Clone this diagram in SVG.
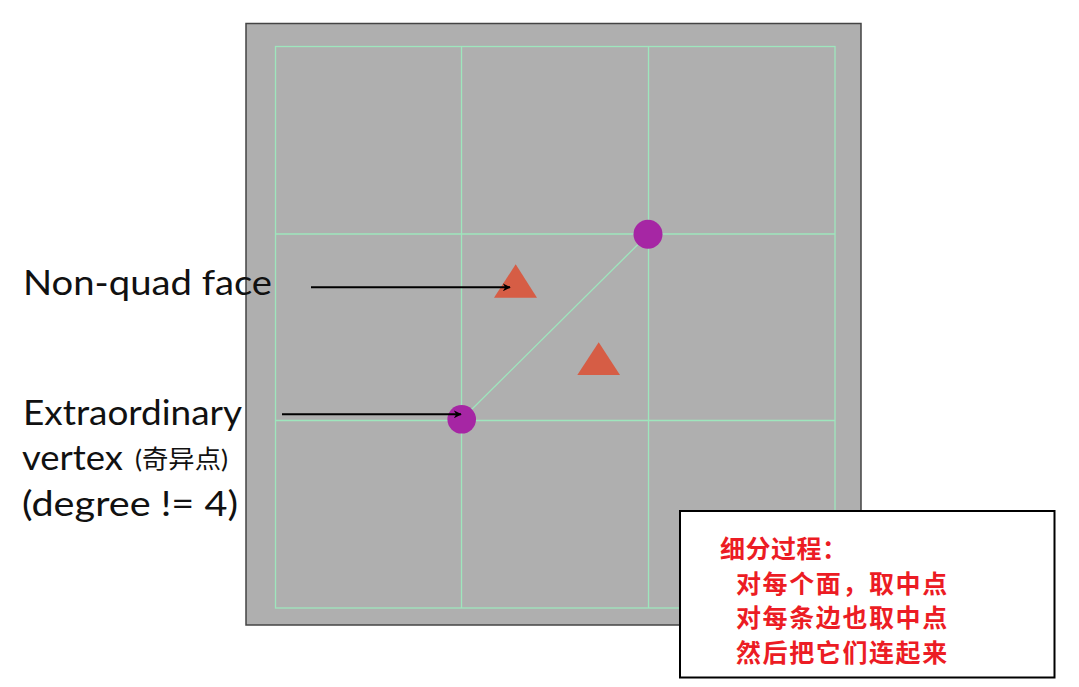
<svg xmlns="http://www.w3.org/2000/svg" width="1079" height="687" viewBox="0 0 1079 687">
<style>
.grid{stroke:#9ee6bd;stroke-width:1.3;fill:none}
.lbl{font-family:Lato,"Noto Sans","Noto Sans CJK SC",sans-serif;font-weight:400;fill:#111}
.note{font-family:"Noto Sans CJK SC",sans-serif;font-weight:bold;font-size:25px;fill:#ec1c24}
.arrow{stroke:#000;stroke-width:2;fill:none;marker-end:url(#ah)}
.vert{fill:#a626a4}
.face{fill:#d65d45}
</style>
<defs>
<marker id="ah" viewBox="0 0 10 10" refX="9" refY="5" markerWidth="8" markerHeight="8" markerUnits="userSpaceOnUse" orient="auto">
<path d="M0,0 L10,5 L0,10 L3,5 Z" fill="#000"/>
</marker>
</defs>
<rect width="1079" height="687" fill="#fff"/>
<g id="mesh">
<rect x="246" y="23.5" width="615" height="601.5" fill="#afafaf" stroke="#444" stroke-width="1.5"/>
<rect class="grid" x="275.5" y="46.5" width="559.5" height="561.5"/>
<line class="grid" x1="461.5" y1="46.5" x2="461.5" y2="608"/>
<line class="grid" x1="648.5" y1="46.5" x2="648.5" y2="608"/>
<line class="grid" x1="275.5" y1="234" x2="835" y2="234"/>
<line class="grid" x1="275.5" y1="420.5" x2="835" y2="420.5"/>
<line class="grid" x1="461.5" y1="419.5" x2="648" y2="234.5"/>
</g>
<g id="face1"><polygon class="face" points="515.7,264.3 537,297.7 494,297.7"/></g>
<g id="face2"><polygon class="face" points="598.7,342.3 620,375 577.3,375"/></g>
<g id="vertex1"><circle class="vert" cx="648" cy="234.3" r="14.5"/></g>
<g id="vertex2"><circle class="vert" cx="461.7" cy="419.3" r="14.3"/></g>
<g id="connectors">
<line class="arrow" x1="311" y1="287.3" x2="510" y2="287.3"/>
<line class="arrow" x1="282" y1="414.3" x2="461" y2="414.3"/>
</g>
<g id="label-face">
<text class="lbl" x="23" y="295" font-size="34" textLength="249" lengthAdjust="spacingAndGlyphs">Non-quad face</text>
</g>
<g id="label-vertex">
<text class="lbl" x="23" y="425" font-size="34" textLength="219" lengthAdjust="spacingAndGlyphs">Extraordinary</text>
<text class="lbl" x="22" y="470" font-size="34" textLength="101" lengthAdjust="spacingAndGlyphs">vertex</text>
<text class="lbl" x="135" y="468" font-size="25" textLength="93" lengthAdjust="spacingAndGlyphs">(奇异点)</text>
<text class="lbl" x="22" y="516" font-size="34" textLength="216" lengthAdjust="spacingAndGlyphs">(degree != 4)</text>
</g>
<g id="note">
<rect x="680" y="511" width="374.5" height="166.5" fill="#fff" stroke="#000" stroke-width="2"/>
<text class="note" x="720" y="558" letter-spacing="0.5">细分过程：</text>
<text class="note" x="736" y="593" letter-spacing="1.6">对每个面，取中点</text>
<text class="note" x="736" y="627" letter-spacing="1.6">对每条边也取中点</text>
<text class="note" x="736" y="662" letter-spacing="1.6">然后把它们连起来</text>
</g>
</svg>
